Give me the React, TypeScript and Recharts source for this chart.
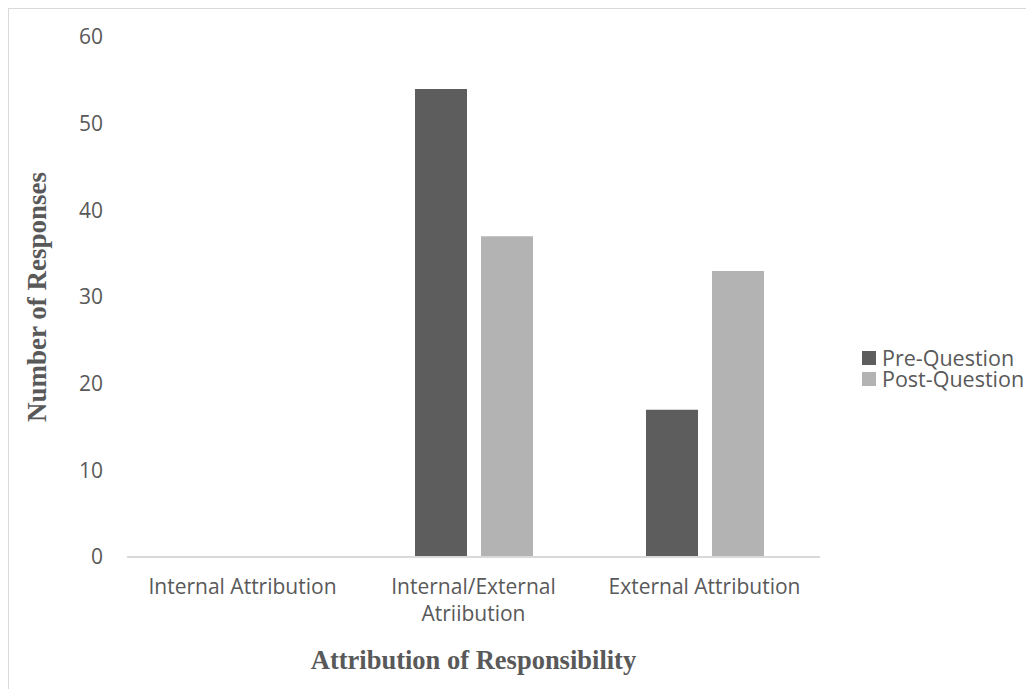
import { Bar, BarChart, Label, XAxis, YAxis } from "recharts";

const categories = ["Internal Attribution", "Internal/External Atriibution", "External Attribution"];
const preQuestion = [0, 54, 17];
const postQuestion = [0, 37, 33];
const yTicks = [0, 10, 20, 30, 40, 50, 60];
const seriesNames = ["Pre-Question", "Post-Question"];

const colours = {
    pre: "#5d5d5d",
    post: "#b3b3b3",
    text: "#595959",
    axis: "#d9d9d9",
};

const data = categories.map((name, i) => ({
    name,
    pre: preQuestion[i],
    post: postQuestion[i],
}));

const sans = "'Open Sans', sans-serif";
const serif = "'Liberation Serif', 'DejaVu Serif', serif";

// long labels break at the last space, like the original chart
const splitLabel = (s: string) => {
    if (s.length <= 22) return [s];
    const k = s.lastIndexOf(" ");
    return [s.slice(0, k), s.slice(k + 1)];
};

const CategoryTick = ({ x, y, payload }) => (
    <text x={x} y={y} textAnchor="middle" fill={colours.text} style={{ fontFamily: sans, fontSize: 21 }}>
        {splitLabel(payload.value).map((line, i) => (
            <tspan key={i} x={x} dy={i === 0 ? "0.71em" : 27}>{line}</tspan>
        ))}
    </text>
);

const LegendBox = () => (
    <div style={{ position: "absolute", left: 862, top: 347, fontFamily: sans, fontSize: 21.5, lineHeight: "21px", color: colours.text, whiteSpace: "nowrap" }}>
        {[colours.pre, colours.post].map((c, i) => (
            <div key={i} style={{ display: "flex", alignItems: "center", height: 21 }}>
                <span style={{ display: "inline-block", width: 14, height: 14, background: c, marginRight: 6 }} />
                {seriesNames[i]}
            </div>
        ))}
    </div>
);

export default function App() {
    return (
        <div style={{ position: "relative", margin: -8, width: 1034, height: 697, overflow: "hidden", background: "#fff" }}>
            <div style={{ position: "absolute", left: 7, top: 7, width: 1100, height: 800, borderTop: "2px solid #d9d9d9", borderLeft: "2px solid #d9d9d9" }} />
            <BarChart width={1034} height={697} data={data} barSize={52} barGap={14}
                      margin={{ top: 37, right: 214, bottom: 80, left: 0 }}>
                <XAxis dataKey="name" height={60} axisLine={{ stroke: colours.axis, strokeWidth: 2 }} tickLine={false}
                       tickMargin={16} tick={<CategoryTick />} interval={0}>
                    <Label value="Attribution of Responsibility" position="insideBottom" offset={-52}
                           style={{ fontFamily: serif, fontSize: 26.5, fontWeight: "bold", fill: colours.text }} />
                </XAxis>
                <YAxis width={127} domain={[0, 60]} ticks={yTicks} axisLine={false} tickLine={false} tickMargin={18}
                       tick={{ fill: colours.text, fontFamily: sans, fontSize: 21 }}>
                    <Label value="Number of Responses" angle={-90} position="insideLeft" offset={36}
                           style={{ fontFamily: serif, fontSize: 27, fontWeight: "bold", fill: colours.text, textAnchor: "middle" }} />
                </YAxis>
                <Bar dataKey="pre" name={seriesNames[0]} fill={colours.pre} isAnimationActive={false} />
                <Bar dataKey="post" name={seriesNames[1]} fill={colours.post} isAnimationActive={false} />
            </BarChart>
            <LegendBox />
        </div>
    );
}
